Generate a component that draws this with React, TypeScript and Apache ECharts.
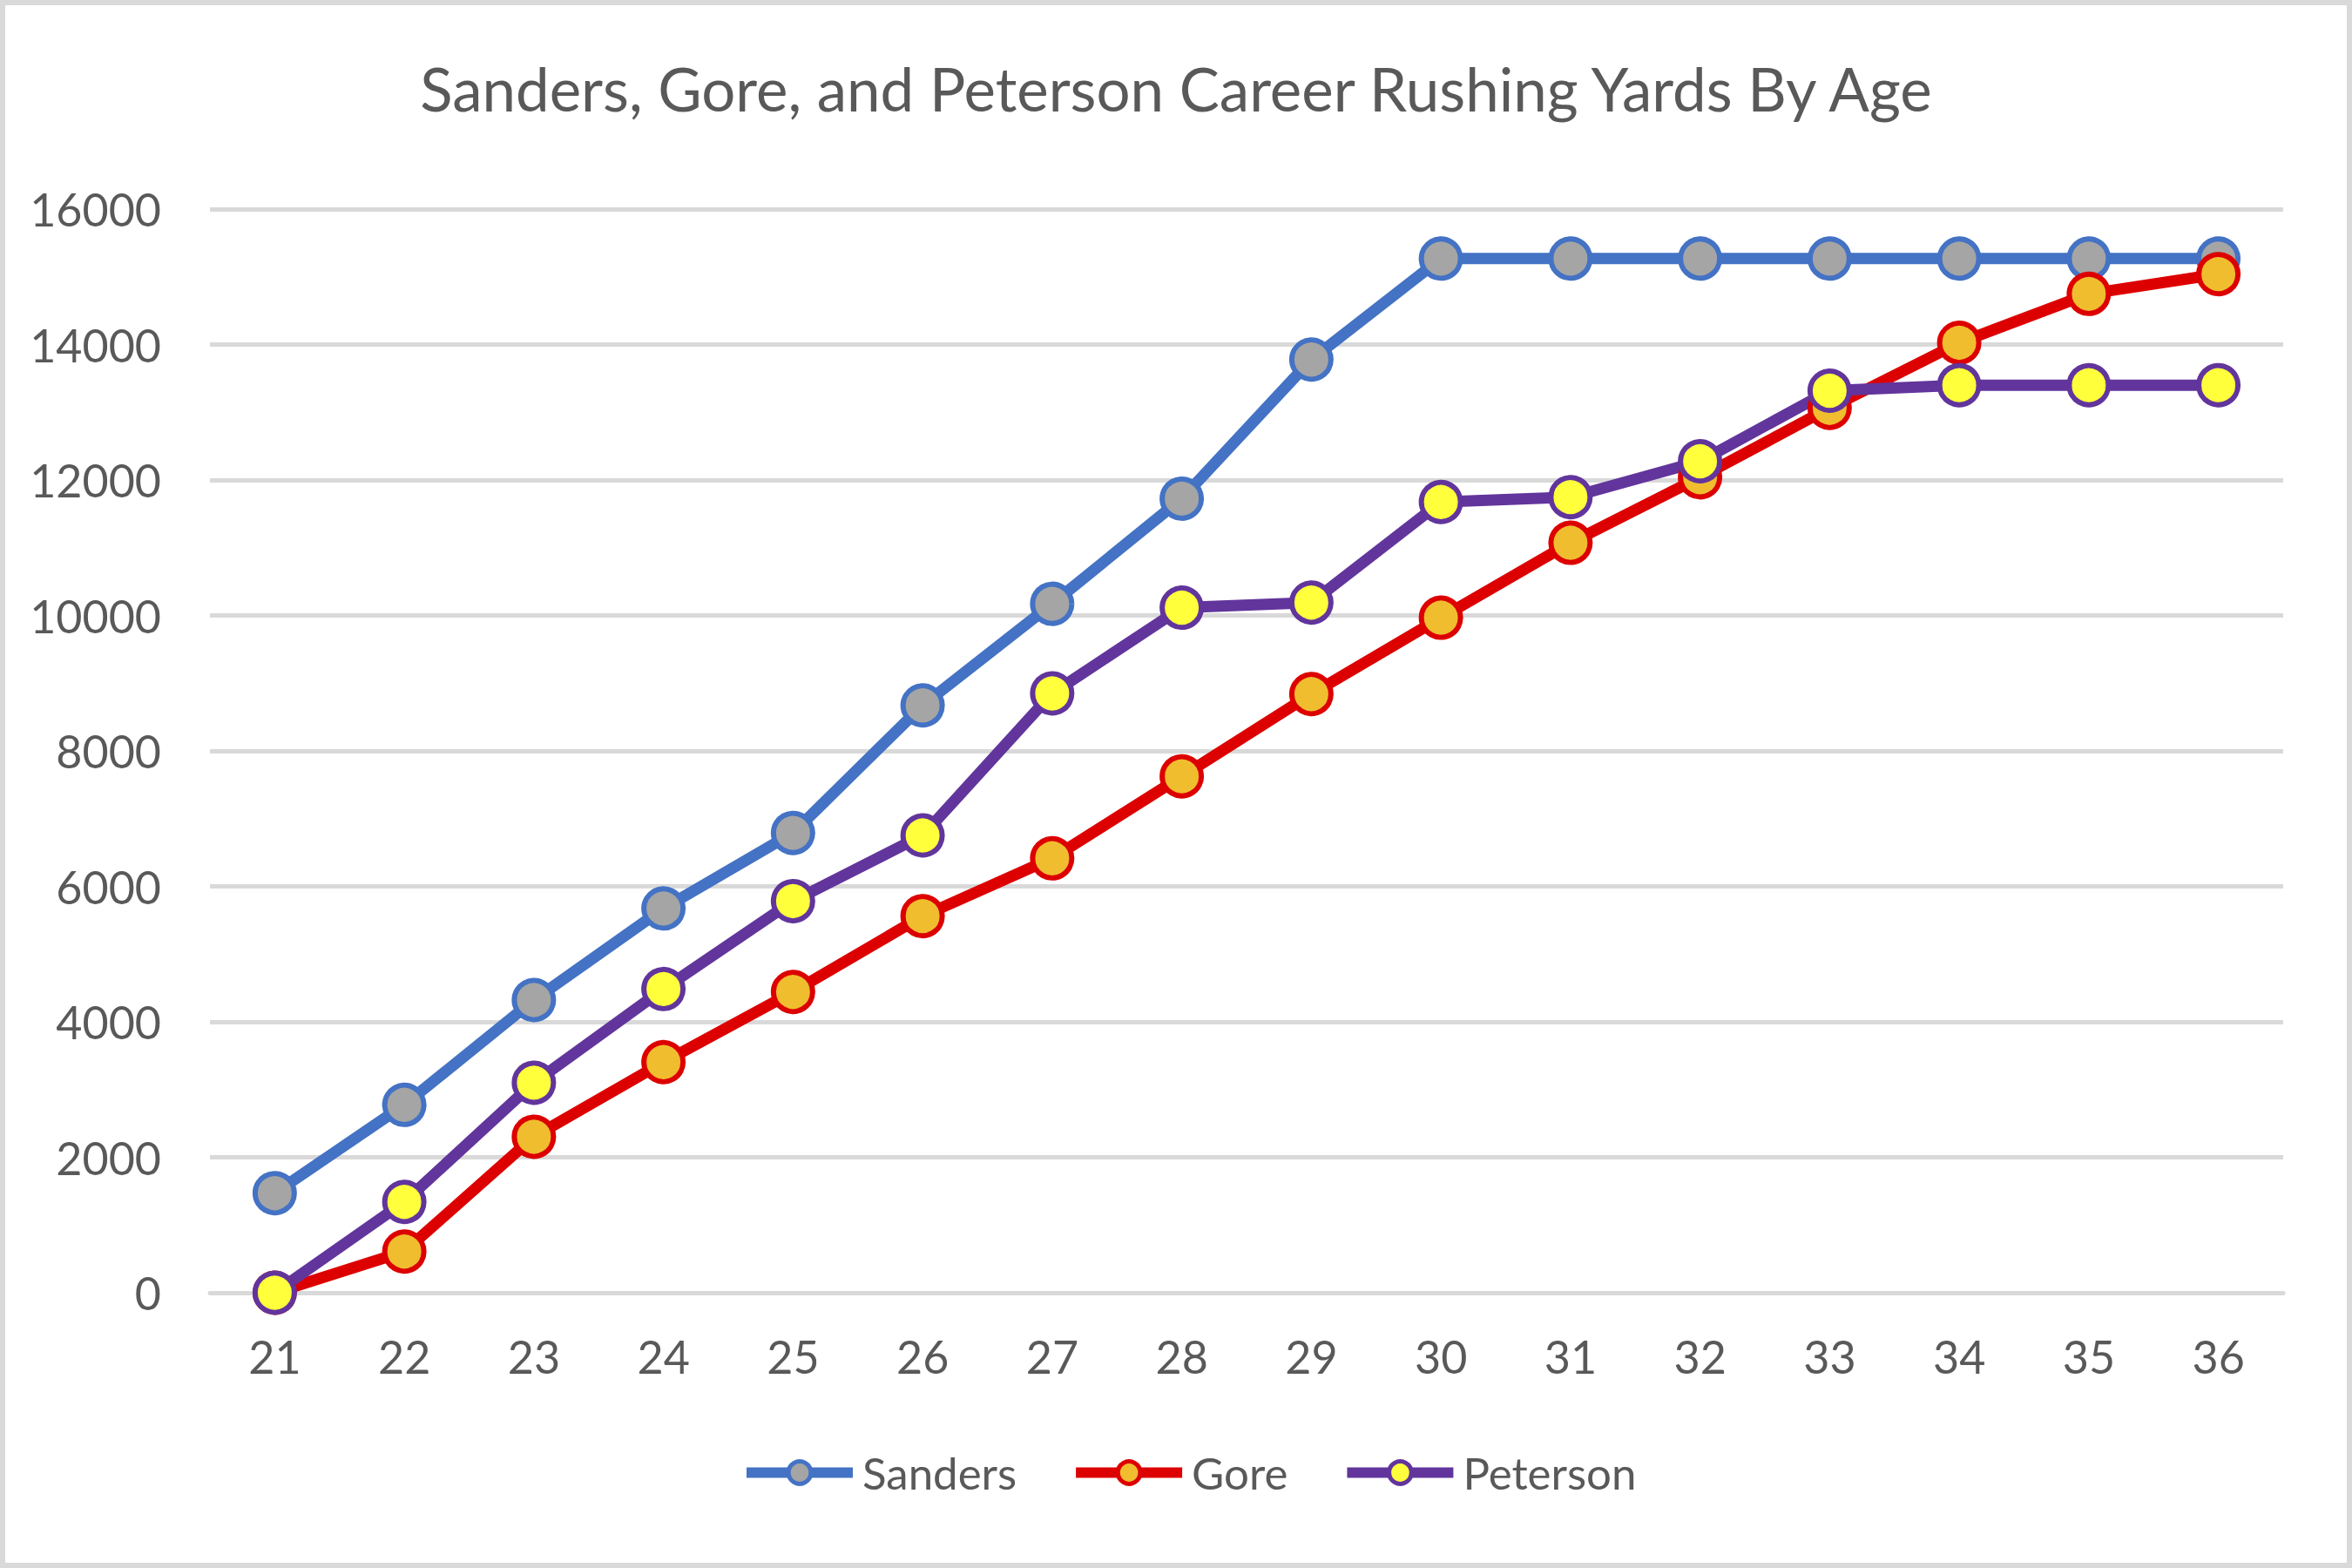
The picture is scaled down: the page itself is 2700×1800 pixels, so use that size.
import React, { useEffect, useRef } from "react";
import * as echarts from "echarts";

const ages = ["21", "22", "23", "24", "25", "26", "27", "28", "29", "30", "31", "32", "33", "34", "35", "36"];
const sanders = [1470, 2774, 4322, 5674, 6789, 8672, 10172, 11725, 13778, 15269, 15269, 15269, 15269, 15269, 15269, 15269];
const gore = [0, 608, 2303, 3405, 4441, 5561, 6414, 7625, 8839, 9967, 11073, 12040, 13065, 14026, 14748, 15040];
const peterson = [0, 1341, 3101, 4484, 5782, 6752, 8849, 10115, 10190, 11675, 11747, 12276, 13318, 13400, 13400, 13400];

const FONT = "Lato";
const TEXT = "#595959";

function mkSeries(name: string, data: number[], line: string, fill: string) {
  return {
    name,
    type: "line",
    data,
    symbol: "circle",
    symbolSize: 45,
    showAllSymbol: true,
    lineStyle: { color: line, width: 13 },
    itemStyle: { color: fill, borderColor: line, borderWidth: 6 },
    emphasis: { disabled: true },
  };
}

export default function App() {
  const ref = useRef<HTMLDivElement>(null);
  useEffect(() => {
    if (!ref.current) return;
    const chart = echarts.init(ref.current, undefined, { renderer: "svg" });
    chart.setOption({
      animation: false,
      backgroundColor: "#ffffff",
      textStyle: { fontFamily: FONT },
      title: {
        text: "Sanders, Gore, and Peterson Career Rushing Yards By Age",
        left: "center",
        top: 62,
        textStyle: { fontFamily: FONT, fontSize: 69, fontWeight: "normal", color: TEXT },
      },
      legend: {
        left: 846,
        top: 1660,
        itemWidth: 122,
        itemHeight: 32,
        itemGap: 62,
        lineStyle: { width: 12 },
        itemStyle: { borderWidth: 5 },
        textStyle: { fontFamily: FONT, fontSize: 51, color: TEXT, padding: [0, 0, 0, 6] },
        data: ["Sanders", "Gore", "Peterson"],
      },
      grid: { left: 241, top: 240, width: 2380, height: 1244, containLabel: false },
      xAxis: {
        type: "category",
        data: ages,
        boundaryGap: true,
        axisTick: { show: false },
        axisLine: { show: true, lineStyle: { color: "#d9d9d9", width: 5 } },
        axisLabel: { fontFamily: FONT, fontSize: 52, color: TEXT, margin: 47 },
        splitLine: { show: false },
      },
      yAxis: {
        type: "value",
        min: 0,
        max: 16000,
        interval: 2000,
        axisLine: { show: false },
        axisTick: { show: false },
        axisLabel: {
          fontFamily: FONT,
          fontSize: 52,
          color: TEXT,
          margin: 56,
          formatter: (v: number) => String(v),
        },
        splitLine: { show: true, lineStyle: { color: "#d9d9d9", width: 5 } },
      },
      graphic: [
        {
          type: "rect",
          shape: { x: 3, y: 3, width: 2694, height: 1794 },
          style: { fill: "none", stroke: "#d9d9d9", lineWidth: 6 },
          silent: true,
        },
      ],
      series: [
        mkSeries("Sanders", sanders, "#4472C4", "#A5A5A5"),
        mkSeries("Gore", gore, "#DD0000", "#F0BD2F"),
        mkSeries("Peterson", peterson, "#62359C", "#FFFF3C"),
      ],
    });
    return () => chart.dispose();
  }, []);
  return (
    <div
      ref={ref}
      style={{ position: "absolute", left: 0, top: 0, width: 2700, height: 1800 }}
    />
  );
}
